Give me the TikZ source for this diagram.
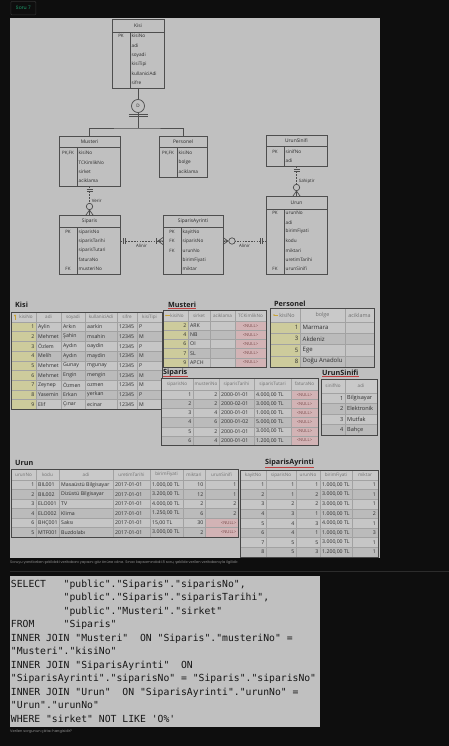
\documentclass[tikz,border=0pt]{standalone}
\usepackage{fontspec}
\setmainfont{Open Sans}
\newfontfamily\codefont{DejaVu Sans Mono}
\newfontfamily\pagefont{Poppins}

\definecolor{pagebg}{HTML}{0E0E0E}
\definecolor{panel}{HTML}{C0C0C0}
\definecolor{erline}{HTML}{4E4E4E}
\definecolor{ertext}{HTML}{2A2A2A}
\definecolor{headfill}{HTML}{C9C9C9}
\definecolor{rowa}{HTML}{C6C6C6}
\definecolor{rowb}{HTML}{BBBBBB}
\definecolor{keycol}{HTML}{CDCB9C}
\definecolor{nullfill}{HTML}{D2B3B5}
\definecolor{nulltext}{HTML}{7A4A4A}
\definecolor{gridcol}{HTML}{A2A2A2}
\definecolor{tborder}{HTML}{474747}
\definecolor{celltext}{HTML}{2E2E2E}
\definecolor{headtext}{HTML}{707070}
\definecolor{titletext}{HTML}{1E1E1E}
\definecolor{spellred}{HTML}{C04040}
\definecolor{keyicon}{HTML}{C9A43A}
\definecolor{codetext}{HTML}{161616}
\definecolor{badgeedge}{HTML}{303030}
\definecolor{badgetext}{HTML}{1E9E6E}
\definecolor{captext}{HTML}{8C8C8C}
\definecolor{sepline}{HTML}{2C2C2C}

\newcommand{\nullcell}{\textcolor{nulltext}{\fontsize{4.2}{5}\selectfont<NULL>}}

\begin{document}
\begin{tikzpicture}[x=1pt,y=-1pt,
    ent/.style={draw=erline,line width=0.8pt,inner sep=0pt,outer sep=0pt},
    enttitle/.style={font=\fontsize{4.9}{5}\selectfont,text=ertext,inner sep=0pt},
    attr/.style={font=\fontsize{4.7}{5}\selectfont,text=ertext,inner sep=0pt,anchor=west},
    pk/.style={font=\fontsize{4.5}{5}\selectfont,text=ertext,inner sep=0pt},
    erl/.style={draw=erline,line width=0.7pt},
    rel/.style={draw=erline,line width=0.7pt,dash pattern=on 1.6pt off 1.2pt},
    rellabel/.style={font=\fontsize{4.4}{5}\selectfont,text=ertext,inner sep=0pt},
    cell/.style={font=\fontsize{5.2}{6}\selectfont,text=celltext,inner sep=0pt},
    bigcell/.style={font=\fontsize{6}{7}\selectfont,text=celltext,inner sep=0pt},
    headcell/.style={font=\fontsize{4.6}{5}\selectfont,text=headtext,inner sep=0pt},
    tabtitle/.style={font=\fontsize{7.2}{8}\selectfont\bfseries,text=titletext,inner sep=0pt,anchor=west},
    gridline/.style={draw=gridcol,line width=0.35pt},
    tframe/.style={draw=tborder,line width=1pt},
    spell/.style={draw=spellred,line width=0.5pt},
    code/.style={font=\codefont\fontsize{9.75}{11}\selectfont,text=codetext,inner sep=0pt,anchor=base west},
    caption/.style={font=\pagefont\fontsize{3.6}{4}\selectfont,text=captext,inner sep=0pt,anchor=west},
    badge/.style={draw=badgeedge,line width=0.6pt,rounded corners=1pt,minimum width=25pt,minimum height=13.5pt,inner sep=0pt,font=\pagefont\fontsize{4.8}{5}\selectfont,text=badgetext}]

    \useasboundingbox (0,0) rectangle (449,746);
    \fill[pagebg] (0,0) rectangle (449,746);
    \node[badge] (badge) at (23.3,8.2) {Soru 7};
    \fill[panel] (10,18) rectangle (380,558);

    \foreach \n/\cx/\cy/\w/\h/\hh/\ttl in {kisi/138/53.5/52/69/13/Kisi,musteri/89.5/161/61/50/11/Musteri,personel/183/156.5/48/41/11/Personel,urunsinifi/296.5/150.5/61/31/11/UrunSinifi,urun/296.5/235/61/78/13/Urun,siparis/89.5/244.5/61/59/12/Siparis,siparisayrinti/193/244.5/60/59/12/SiparisAyrinti}{
        \node[ent,minimum width=\w,minimum height=\h] (\n) at (\cx,\cy) {};
        \node[enttitle] (\n-title) at (\cx,\cy-\h/2+\hh/2) {\ttl};
        \draw[erl] (\cx-\w/2,\cy-\h/2+\hh) -- (\cx+\w/2,\cy-\h/2+\hh) (\cx-\w/2+18,\cy-\h/2+\hh) -- (\cx-\w/2+18,\cy+\h/2);
    }
    \foreach [count=\i] \keytxt/\attrtxt in {PK/kisiNo,/adi,/soyadi,/kisiTipi,/kullaniciAdi,/sifre}{
        \node[pk] (kisi-k\i) at (121,26.6+9.4*\i) {\keytxt};
        \node[attr] (kisi-a\i) at (131.5,26.6+9.4*\i) {\attrtxt};
    }
    \foreach [count=\i] \keytxt/\attrtxt in {{PK,FK}/kisiNo,/TCKimlikNo,/sirket,/aciklama}{
        \node[pk] (musteri-k\i) at (68,143.6+9.4*\i) {\keytxt};
        \node[attr] (musteri-a\i) at (78.5,143.6+9.4*\i) {\attrtxt};
    }
    \foreach [count=\i] \keytxt/\attrtxt in {{PK,FK}/kisiNo,/bolge,/aciklama}{
        \node[pk] (personel-k\i) at (168,143.6+9.4*\i) {\keytxt};
        \node[attr] (personel-a\i) at (178.5,143.6+9.4*\i) {\attrtxt};
    }
    \foreach [count=\i] \keytxt/\attrtxt in {PK/sinifNo,/adi}{
        \node[pk] (urunsinifi-k\i) at (275,143+9*\i) {\keytxt};
        \node[attr] (urunsinifi-a\i) at (285.5,143+9*\i) {\attrtxt};
    }
    \foreach [count=\i] \keytxt/\attrtxt in {PK/urunNo,/adi,/birimFiyati,/kodu,/miktari,/uretimTarihi,FK/urunSinifi}{
        \node[pk] (urun-k\i) at (275,203.65+9.35*\i) {\keytxt};
        \node[attr] (urun-a\i) at (285.5,203.65+9.35*\i) {\attrtxt};
    }
    \foreach [count=\i] \keytxt/\attrtxt in {PK/siparisNo,/siparisTarihi,/siparisTutari,/faturaNo,FK/musteriNo}{
        \node[pk] (siparis-k\i) at (68,222.7+9.3*\i) {\keytxt};
        \node[attr] (siparis-a\i) at (78.5,222.7+9.3*\i) {\attrtxt};
    }
    \foreach [count=\i] \keytxt/\attrtxt in {PK/kayitNo,FK/siparisNo,FK/urunNo,/birimFiyati,/miktar}{
        \node[pk] (siparisayrinti-k\i) at (172,222.7+9.3*\i) {\keytxt};
        \node[attr] (siparisayrinti-a\i) at (182.5,222.7+9.3*\i) {\attrtxt};
    }

    \node[draw=erline,line width=0.7pt,circle,minimum size=13pt,inner sep=0pt,font=\fontsize{4.6}{5}\selectfont,text=ertext] (disjoint) at (138,106) {D};
    \coordinate (split) at (138,128);
    \draw[erl] (kisi.south) -- (disjoint.north) (disjoint.south) -- (split);
    \draw[erl] (musteri.north) |- (split) -| (personel.north);
    \draw[erl] ([xshift=-9.5pt,yshift=-1.5pt]disjoint.south) -- ++(19,0) ++(0,2.5) -- ++(-19,0);

    \draw[rel] (musteri.south) -- node[rellabel,right=2pt] (verir) {Verir} (siparis.north);
    \draw[erl] ([xshift=-3pt,yshift=-3pt]musteri.south) -- ++(6,0) ++(0,2.5) -- ++(-6,0);
    \draw[erl] ([xshift=-3.5pt]siparis.north) -- ([yshift=5pt]siparis.north) -- ([xshift=3.5pt]siparis.north) ([yshift=5pt]siparis.north) -- (siparis.north);
    \draw[erl,fill=panel] ([yshift=8.5pt]siparis.north) circle (3.2pt);

    \draw[rel] (urunsinifi.south) -- node[rellabel,right=2pt] (sahiptir) {Sahiptir} (urun.north);
    \draw[erl] ([xshift=-3pt,yshift=-3pt]urunsinifi.south) -- ++(6,0) ++(0,2.5) -- ++(-6,0);
    \draw[erl] ([xshift=-3.5pt]urun.north) -- ([yshift=5pt]urun.north) -- ([xshift=3.5pt]urun.north) ([yshift=5pt]urun.north) -- (urun.north);
    \draw[erl,fill=panel] ([yshift=8.5pt]urun.north) circle (3.2pt);

    \coordinate (sp-out) at ([yshift=3.5pt]siparis.east);
    \coordinate (sa-in) at ([yshift=3.5pt]siparisayrinti.west);
    \coordinate (sa-out) at ([yshift=3.5pt]siparisayrinti.east);
    \coordinate (ur-in) at ([yshift=-6pt]urun.west);
    \draw[rel] (sp-out) -- node[rellabel,below=2.5pt] (alinir1) {Alinir} (sa-in);
    \draw[erl] ([xshift=3pt,yshift=3pt]sp-out) -- ++(0,6) ++(2.5,0) -- ++(0,-6);
    \draw[erl] ([xshift=-6.5pt,yshift=3pt]sa-in) -- ++(0,6);
    \draw[erl] ([yshift=3.5pt]sa-in) -- ([xshift=-5pt]sa-in) -- ([yshift=-3.5pt]sa-in) ([xshift=-5pt]sa-in) -- (sa-in);
    \draw[rel] (sa-out) -- node[rellabel,below=2.5pt] (alinir2) {Alinir} (ur-in);
    \draw[erl] ([yshift=3.5pt]sa-out) -- ([xshift=5pt]sa-out) -- ([yshift=-3.5pt]sa-out) ([xshift=5pt]sa-out) -- (sa-out);
    \draw[erl,fill=panel] ([xshift=9pt]sa-out) circle (3.2pt);
    \draw[erl] ([xshift=-6pt,yshift=3pt]ur-in) -- ++(0,6) ++(2.5,0) -- ++(0,-6);

    % Kisi
    \node[tabtitle] (kisi-tab) at (15,305) {Kisi};
    \fill[headfill] (11,312) rectangle (162,322);
    \foreach [count=\r] \row in {{1,Aylin,Arkın,aarkin,12345,P},{2,Mehmet,Şahin,msahin,12345,M},{3,Özlem,Aydın,oaydin,12345,P},{4,Melih,Aydın,maydin,12345,M},{5,Mehmet,Gunay,mgunay,12345,P},{6,Mehmet,Engin,mengin,12345,M},{7,Zeynep,Özmen,ozmen,12345,M},{8,Yasemin,Erkan,yerkan,12345,P},{9,Elif,Çınar,ecinar,12345,M}}{
        \pgfmathsetmacro\ry{322+9.67*(\r-1)}
        \ifodd\r\def\rc{rowa}\else\def\rc{rowb}\fi
        \fill[\rc] (11,\ry) rectangle (162,\ry+9.67);
        \fill[keycol] (11,\ry) rectangle (36,\ry+9.67);
        \foreach [count=\c] \cell in \row{
            \pgfmathsetmacro\cx{{34.5,38,63,87,119,139}[\c-1]}
            \pgfmathtruncatemacro\ca{{1,0,0,0,0,0}[\c-1]}
            \ifcase\ca\def\an{west}\or\def\an{east}\or\def\an{center}\fi
            \node[cell,anchor=\an] (kisi-\r-\c) at (\cx,\ry+4.9) {\cell};
        }
    }
    \foreach \hd/\hx in {kisiNo/26,adi/48.5,soyadi/73,kullaniciAdi/101,sifre/127,kisiTipi/149.5}
        \node[headcell] (kisi-h-\hd) at (\hx,317) {\hd};
    \fill[keyicon] (15,315.5) circle (1.1pt);
    \draw[keyicon,line width=0.5pt] (15,316) -- (15,319.5);
    \foreach \gx in {36,61,85,117,137}
        \draw[gridline] (\gx,312) -- (\gx,409);
    \foreach \r in {0,...,8}
        \draw[gridline] (11,322+9.67*\r) -- (162,322+9.67*\r);
    \draw[tframe] (11,312) rectangle (162,409);

    % Musteri
    \node[tabtitle] (musteri-tab) at (168,305) {Musteri};
    \draw[spell] (musteri-tab.south west) -- (musteri-tab.south east);
    \fill[headfill] (163,310) rectangle (266,321);
    \foreach [count=\r] \row in {{2,ARK,{},\nullcell},{4,NB,{},\nullcell},{6,OI,{},\nullcell},{7,SL,{},\nullcell},{9,APCH,{},\nullcell}}{
        \pgfmathsetmacro\ry{321+9.2*(\r-1)}
        \ifodd\r\def\rc{rowa}\else\def\rc{rowb}\fi
        \fill[\rc] (163,\ry) rectangle (266,\ry+9.2);
        \fill[keycol] (163,\ry) rectangle (188,\ry+9.2);
        \fill[nullfill] (235,\ry) rectangle (266,\ry+9.2);
        \foreach [count=\c] \cell in \row{
            \pgfmathsetmacro\cx{{186.5,190,212,250.5}[\c-1]}
            \pgfmathtruncatemacro\ca{{1,0,0,2}[\c-1]}
            \ifcase\ca\def\an{west}\or\def\an{east}\or\def\an{center}\fi
            \node[cell,anchor=\an] (musteri-\r-\c) at (\cx,\ry+4.6) {\cell};
        }
    }
    \foreach \hd/\hx in {kisiNo/177,sirket/199,aciklama/222.5,TCKimlikNo/250.5}
        \node[headcell] (musteri-h-\hd) at (\hx,315.5) {\hd};
    \fill[keyicon] (166,315.5) circle (0.9pt);
    \draw[keyicon,line width=0.5pt] (166,315.5) -- (169.5,315.5);
    \foreach \gx in {188,210,235}
        \draw[gridline] (\gx,310) -- (\gx,367);
    \foreach \r in {0,...,4}
        \draw[gridline] (163,321+9.2*\r) -- (266,321+9.2*\r);
    \draw[tframe] (163,310) rectangle (266,367);

    % Personel
    \node[tabtitle] (personel-tab) at (274,304) {Personel};
    \fill[headfill] (270,308) rectangle (374,322);
    \foreach [count=\r] \row in {{1,Marmara,{}},{3,Akdeniz,{}},{5,Ege,{}},{8,Doğu Anadolu,{}}}{
        \pgfmathsetmacro\ry{322+11.25*(\r-1)}
        \ifodd\r\def\rc{rowa}\else\def\rc{rowb}\fi
        \fill[\rc] (270,\ry) rectangle (374,\ry+11.25);
        \fill[keycol] (270,\ry) rectangle (300,\ry+11.25);
        \foreach [count=\c] \cell in \row{
            \pgfmathsetmacro\cx{{298.5,302.5,347}[\c-1]}
            \pgfmathtruncatemacro\ca{{1,0,0}[\c-1]}
            \ifcase\ca\def\an{west}\or\def\an{east}\or\def\an{center}\fi
            \node[bigcell,anchor=\an] (personel-\r-\c) at (\cx,\ry+5.6) {\cell};
        }
    }
    \foreach \hd/\hx in {kisiNo/287,bolge/322.5,aciklama/359.5}
        \node[headcell,font=\fontsize{5.4}{6}\selectfont] (personel-h-\hd) at (\hx,315) {\hd};
    \fill[keyicon] (274,315) circle (0.9pt);
    \draw[keyicon,line width=0.5pt] (274,315) -- (277.5,315);
    \foreach \gx in {300,345}
        \draw[gridline] (\gx,308) -- (\gx,367);
    \foreach \r in {0,...,3}
        \draw[gridline] (270,322+11.25*\r) -- (374,322+11.25*\r);
    \draw[tframe] (270,308) rectangle (374,367);

    % Siparis
    \node[tabtitle] (siparis-tab) at (163,372.5) {Siparis};
    \draw[spell] (siparis-tab.south west) -- (siparis-tab.south east);
    \fill[headfill] (161,378) rectangle (318,390);
    \foreach [count=\r] \row in {{1,2,2000-01-01,{4.000,00 TL},\nullcell},{2,2,2000-02-01,{3.000,00 TL},\nullcell},{3,4,2000-01-01,{1.000,00 TL},\nullcell},{4,6,2000-01-02,{5.000,00 TL},\nullcell},{5,2,2000-01-01,{3.000,00 TL},\nullcell},{6,4,2000-01-01,{1.200,00 TL},\nullcell}}{
        \pgfmathsetmacro\ry{390+9.17*(\r-1)}
        \ifodd\r\def\rc{rowa}\else\def\rc{rowb}\fi
        \fill[\rc] (161,\ry) rectangle (318,\ry+9.17);
        \fill[nullfill] (291,\ry) rectangle (318,\ry+9.17);
        \foreach [count=\c] \cell in \row{
            \pgfmathsetmacro\cx{{191.5,217.5,221,256,304.5}[\c-1]}
            \pgfmathtruncatemacro\ca{{1,1,0,0,2}[\c-1]}
            \ifcase\ca\def\an{west}\or\def\an{east}\or\def\an{center}\fi
            \node[cell,anchor=\an] (siparis-\r-\c) at (\cx,\ry+4.6) {\cell};
        }
    }
    \foreach \hd/\hx in {siparisNo/177,musteriNo/206,siparisTarihi/236.5,siparisTutari/272.5,faturaNo/304.5}
        \node[headcell] (siparis-h-\hd) at (\hx,384) {\hd};
    \foreach \gx in {193,219,254,291}
        \draw[gridline] (\gx,378) -- (\gx,445);
    \foreach \r in {0,...,5}
        \draw[gridline] (161,390+9.17*\r) -- (318,390+9.17*\r);
    \draw[tframe] (161,378) rectangle (318,445);

    % UrunSinifi
    \node[tabtitle] (urunsinifi-tab) at (322,373) {UrunSinifi};
    \draw[spell] (urunsinifi-tab.south west) -- (urunsinifi-tab.south east);
    \fill[headfill] (321,379) rectangle (377,393);
    \foreach [count=\r] \row in {{1,Bilgisayar},{2,Elektronik},{3,Mutfak},{4,Bahçe}}{
        \pgfmathsetmacro\ry{393+10.5*(\r-1)}
        \ifodd\r\def\rc{rowa}\else\def\rc{rowb}\fi
        \fill[\rc] (321,\ry) rectangle (377,\ry+10.5);
        \foreach [count=\c] \cell in \row{
            \pgfmathsetmacro\cx{{343.5,347}[\c-1]}
            \pgfmathtruncatemacro\ca{{1,0}[\c-1]}
            \ifcase\ca\def\an{west}\or\def\an{east}\or\def\an{center}\fi
            \node[cell,font=\fontsize{5.6}{6}\selectfont,anchor=\an] (urunsinifi-\r-\c) at (\cx,\ry+5.25) {\cell};
        }
    }
    \foreach \hd/\hx in {sinifNo/333,adi/361}
        \node[headcell] (urunsinifi-h-\hd) at (\hx,386) {\hd};
    \draw[gridline] (345,379) -- (345,435);
    \foreach \r in {0,...,3}
        \draw[gridline] (321,393+10.5*\r) -- (377,393+10.5*\r);
    \draw[tframe] (321,379) rectangle (377,435);

    % Urun
    \node[tabtitle] (urun-tab) at (15,463) {Urun};
    \fill[headfill] (11,469) rectangle (238,480);
    \foreach [count=\r] \row in {{1,BIL001,Masaüstü Bilgisayar,2017-01-01,{1.000,00 TL},10,1},{2,BIL002,Dizüstü Bilgisayar,2017-01-01,{3.200,00 TL},12,1},{3,ELO001,TV,2017-01-01,{4.000,00 TL},2,2},{4,ELO002,Klima,2017-01-01,{1.250,00 TL},6,2},{6,BHÇ001,Saksı,2017-01-01,{15,00 TL},30,\nullcell},{5,MTF001,Buzdolabı,2017-01-01,{3.000,00 TL},2,\nullcell}}{
        \pgfmathsetmacro\ry{480+9.5*(\r-1)}
        \ifodd\r\def\rc{rowa}\else\def\rc{rowb}\fi
        \fill[\rc] (11,\ry) rectangle (238,\ry+9.5);
        \ifnum\r>4 \fill[nullfill] (205,\ry) rectangle (238,\ry+9.5);\fi
        \foreach [count=\c] \cell in \row{
            \pgfmathsetmacro\cx{{34.5,38,61,115,152,203.5,236.5}[\c-1]}
            \pgfmathtruncatemacro\ca{{1,0,0,0,0,1,1}[\c-1]}
            \ifcase\ca\def\an{west}\or\def\an{east}\or\def\an{center}\fi
            \node[cell,anchor=\an] (urun-\r-\c) at (\cx,\ry+4.75) {\cell};
        }
    }
    \foreach \hd/\hx in {urunNo/23.5,kodu/47.5,adi/86,uretimTarihi/131.5,birimFiyati/166.5,miktari/194,urunSinifi/221.5}
        \node[headcell] (urun-h-\hd) at (\hx,474.5) {\hd};
    \foreach \gx in {36,59,113,150,183,205}
        \draw[gridline] (\gx,469) -- (\gx,537);
    \foreach \r in {0,...,5}
        \draw[gridline] (11,480+9.5*\r) -- (238,480+9.5*\r);
    \draw[tframe] (11,469) rectangle (238,537);

    % SiparisAyrinti
    \node[tabtitle] (siparisayrinti-tab) at (265,463) {SiparisAyrinti};
    \draw[spell] (siparisayrinti-tab.south west) -- (siparisayrinti-tab.south east);
    \fill[headfill] (240,470) rectangle (378,480);
    \foreach [count=\r] \row in {{1,1,1,{1.000,00 TL},1},{2,1,2,{3.000,00 TL},1},{3,2,2,{3.000,00 TL},1},{4,3,1,{1.000,00 TL},2},{5,4,3,{4.000,00 TL},1},{6,4,1,{1.000,00 TL},3},{7,5,5,{3.000,00 TL},1},{8,5,3,{1.200,00 TL},1}}{
        \pgfmathsetmacro\ry{480+9.6*(\r-1)}
        \ifodd\r\def\rc{rowa}\else\def\rc{rowb}\fi
        \fill[\rc] (240,\ry) rectangle (378,\ry+9.6);
        \foreach [count=\c] \cell in \row{
            \pgfmathsetmacro\cx{{264.5,294.5,318.5,322,376}[\c-1]}
            \pgfmathtruncatemacro\ca{{1,1,1,0,1}[\c-1]}
            \ifcase\ca\def\an{west}\or\def\an{east}\or\def\an{center}\fi
            \node[cell,anchor=\an] (siparisayrinti-\r-\c) at (\cx,\ry+4.8) {\cell};
        }
    }
    \foreach \hd/\hx in {kayitNo/253,siparisNo/281,urunNo/308,birimFiyati/336,miktar/365}
        \node[headcell] (siparisayrinti-h-\hd) at (\hx,475) {\hd};
    \foreach \gx in {266,296,320,352}
        \draw[gridline] (\gx,470) -- (\gx,557);
    \foreach \r in {0,...,7}
        \draw[gridline] (240,480+9.6*\r) -- (378,480+9.6*\r);
    \draw[tframe] (240,470) rectangle (378,557);

    \node[caption] (caption) at (10,563) {Soruyu yanıtlarken şekildeki veritabanı yapısını göz önüne alınız. Sınav kapsamındaki 8 soru, şekilde verilen veritabanıyla ilgilidir.};
    \draw[sepline,line width=0.5pt] (10,571) -- (449,571);

    \fill[panel] (10,576) rectangle (320,727);
    \foreach [count=\i] \ind/\codeline in {0/{SELECT\ \ \ "public"."Siparis"."siparisNo",},9/{"public"."Siparis"."siparisTarihi",},9/{"public"."Musteri"."sirket"},0/{FROM\ \ \ \ \ "Siparis"},0/{INNER JOIN "Musteri"\ \ ON "Siparis"."musteriNo" =},0/{"Musteri"."kisiNo"},0/{INNER JOIN "SiparisAyrinti"\ \ ON},0/{"SiparisAyrinti"."siparisNo" = "Siparis"."siparisNo"},0/{INNER JOIN "Urun"\ \ ON "SiparisAyrinti"."urunNo" =},0/{"Urun"."urunNo"},0/{WHERE "sirket" NOT LIKE \char39 O\%\char39}}
        \node[code] (code\i) at (10.7+5.87*\ind,574.05+13.45*\i) {\codeline};

    \node[caption] (question) at (10,732) {Verilen sorgunun çıktısı hangisidir?};
\end{tikzpicture}
\end{document}
